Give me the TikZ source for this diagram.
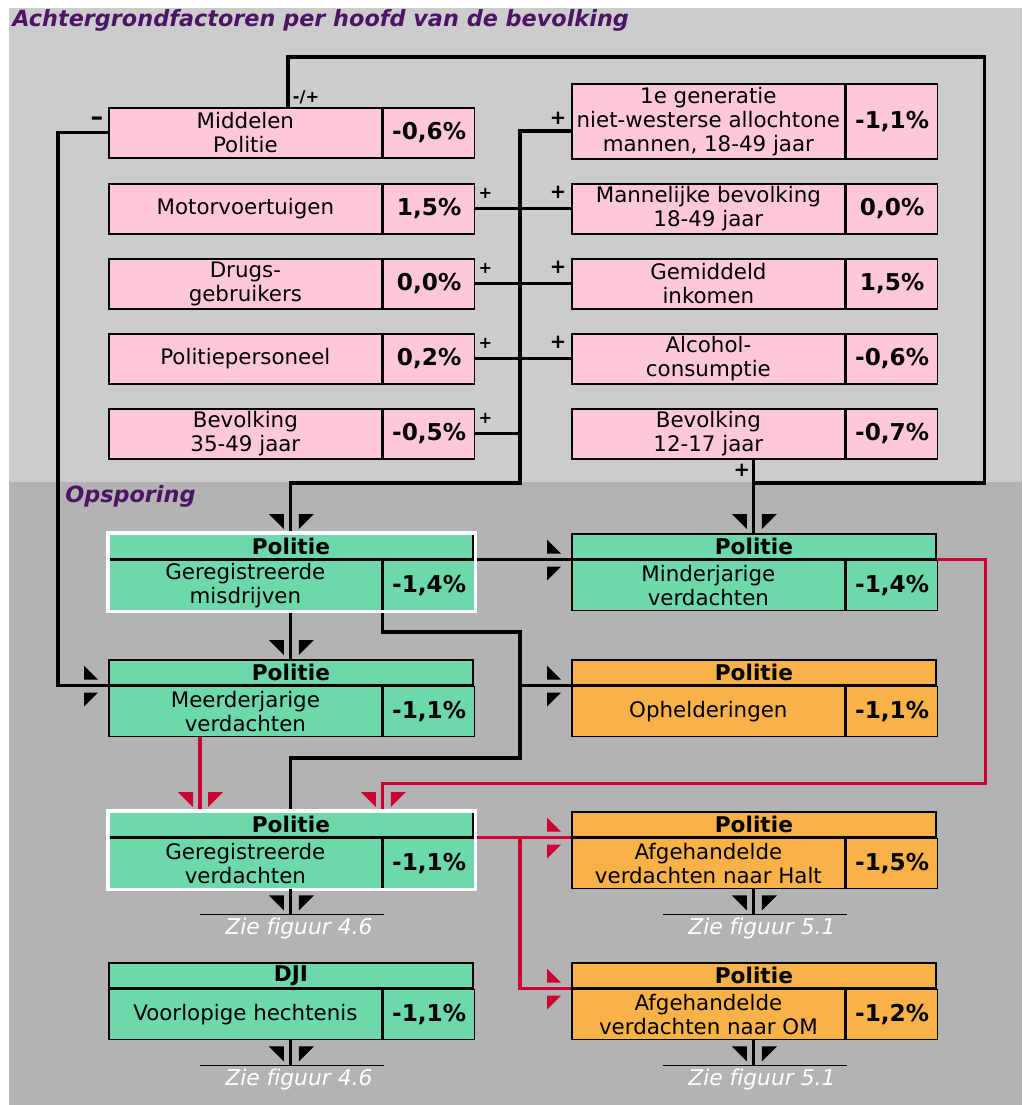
\documentclass[tikz,border=0pt]{standalone}
\usepackage{fontspec}
\setmainfont{DejaVu Sans}
\usepackage{tikz}
\usetikzlibrary{positioning,calc}
\definecolor{bgtop}{RGB}{204,204,204}
\definecolor{bgbot}{RGB}{179,179,179}
\definecolor{pinkbox}{RGB}{255,200,218}
\definecolor{greenbox}{RGB}{108,216,172}
\definecolor{orangebox}{RGB}{248,178,72}
\definecolor{linkred}{RGB}{204,0,51}
\definecolor{titlepurple}{RGB}{77,20,102}

\tikzset{
	pics/downtips/.style={code={
		\fill (-22,-19) -- (-7,-19) -- (-7,-4) -- cycle;
		\fill (8,-19) -- (23,-19) -- (8,-4) -- cycle;}},
	pics/righttips/.style={code={
		\fill (-24,-20) -- (-24,-6) -- (-10,-6) -- cycle;
		\fill (-24,7) -- (-10,7) -- (-24,21) -- cycle;}}
}

\begin{document}
\begin{tikzpicture}[x=0.025cm, y=-0.025cm,
	cell/.style={draw, line width=1.2pt, inner sep=0pt, align=center},
	txt/.style={cell, minimum width=6.825cm, minimum height=1.25cm, font=\fontsize{15.2}{17}\selectfont},
	val/.style={cell, minimum width=2.275cm, minimum height=1.25cm, font=\bfseries\fontsize{16.5}{18}\selectfont},
	hdr/.style={cell, minimum width=9.1cm, minimum height=0.625cm, anchor=north west, font=\bfseries\fontsize{15.4}{18}\selectfont},
	link/.style={line width=2.2pt},
	redlink/.style={line width=2.2pt, linkred},
	refline/.style={line width=1.2pt},
	sign/.style={inner sep=0pt, font=\bfseries\fontsize{11.5}{13}\selectfont},
	bigsign/.style={inner sep=0pt, font=\bfseries\fontsize{14}{15}\selectfont},
	zie/.style={inner sep=0pt, text=white, font=\itshape\fontsize{15.5}{17}\selectfont},
	part/.style={anchor=base west, inner sep=0pt, text=titlepurple, font=\bfseries\itshape\fontsize{15.9}{18}\selectfont}]
	
	% Background
	\useasboundingbox (0,0) rectangle (1022,1105);
	\fill[bgtop] (9,8) rectangle (1022,482);
	\fill[bgbot] (9,482) rectangle (1022,1105);
	\node[part] (top) at (12,26) {Achtergrondfactoren per hoofd van de bevolking};
	\node[part] (mid) at (65,502) {Opsporing};
	
	% Background factors
	\foreach \n/\y/\lab/\pct in {1/107/{Middelen\\Politie}/{-0,6\%}, 2/183/Motorvoertuigen/{1,5\%}, 3/258/{Drugs-\\gebruikers}/{0,0\%}, 4/333/Politiepersoneel/{0,2\%}, 5/408/{Bevolking\\35-49 jaar}/{-0,5\%}}
	{
		\node[txt, fill=pinkbox, anchor=north west] (L\n) at (108,\y) {\lab};
		\node[val, fill=pinkbox, right=0pt of L\n] (vL\n) {\pct};
	}
	\foreach \n/\y/\h/\lab/\pct in {1/83/1.875cm/{1e generatie\\niet-westerse allochtone\\mannen, 18-49 jaar}/{-1,1\%}, 2/183/1.25cm/{Mannelijke bevolking\\18-49 jaar}/{0,0\%}, 3/258/1.25cm/{Gemiddeld\\inkomen}/{1,5\%}, 4/333/1.25cm/{Alcohol-\\consumptie}/{-0,6\%}, 5/408/1.25cm/{Bevolking\\12-17 jaar}/{-0,7\%}}
	{
		\node[txt, fill=pinkbox, anchor=north west, minimum height=\h] (R\n) at (571,\y) {\lab};
		\node[val, fill=pinkbox, minimum height=\h, right=0pt of R\n] (vR\n) {\pct};
	}
	
	% Police boxes
	\foreach \n/\x/\y/\hd/\lab/\pct/\c in {M/108/533/Politie/{Geregistreerde\\misdrijven}/{-1,4\%}/greenbox, N/571/533/Politie/{Minderjarige\\verdachten}/{-1,4\%}/greenbox, Me/108/659/Politie/{Meerderjarige\\verdachten}/{-1,1\%}/greenbox, O/571/659/Politie/Ophelderingen/{-1,1\%}/orangebox, V/108/811/Politie/{Geregistreerde\\verdachten}/{-1,1\%}/greenbox, H/571/811/Politie/{Afgehandelde\\verdachten naar Halt}/{-1,5\%}/orangebox, D/108/962/DJI/Voorlopige hechtenis/{-1,1\%}/greenbox, Om/571/962/Politie/{Afgehandelde\\verdachten naar OM}/{-1,2\%}/orangebox}
	{
		\node[hdr, fill=\c] (h\n) at (\x,\y) {\hd};
		\node[txt, fill=\c, below right=0pt of h\n.south west] (t\n) {\lab};
		\node[val, fill=\c, right=0pt of t\n] (v\n) {\pct};
	}
	
	% Connectors between the factors
	\coordinate (bus) at (520,131);
	\coordinate (frame) at (288,57);
	\coordinate (redA) at (200,0);
	\draw[link] (R1.west |- bus) -- (bus) |- ($(hM.north)+(0,-50)$) -- (hM.north);
	\foreach \n in {2,3,4}
		\draw[link] (vL\n.east) -- (R\n.west);
	\draw[link] (vL5.east) -- (vL5.east -| bus);
	\draw[link] (frame |- L1.north) -- (frame) -| ($(hN.north)+(231,-50)$) -- ($(hN.north)+(0,-50)$);
	\draw[link] (hN.north |- R5.south) -- (hN.north);
	\draw[link] (L1.west) -- ++(-50,0) |- (hMe.south west);
	
	% Connectors between the police boxes
	\draw[link] (hM.north |- tM.south) -- (hMe.north);
	\draw[link] (hM.south east) -- (hN.south west);
	\draw[link] (vM.south west) |- ($(bus)+(0,501)$) -- ($(bus)+(0,627)$) -| (hV.north);
	\draw[link] (hO.south west -| bus) -- (hO.south west);
	\draw[redlink] (tMe.south -| redA) -- (hV.north -| redA);
	\draw[redlink] (hN.south east) -| ($(hN.south east)+(49,224)$) -| (hV.north -| vV.north west);
	\draw[redlink] (hV.south east) -- (hH.south west);
	\draw[redlink] (hV.south east -| bus) |- (hOm.south west);
	\draw[white, line width=2.4pt] (hM.north west) rectangle (vM.south east);
	\draw[white, line width=2.4pt] (hV.north west) rectangle (vV.south east);
	
	% Signs
	\foreach \n in {2,3,4,5}
		\node[sign] (pL\n) at ($(vL\n.north east)+(10,10)$) {+};
	\foreach \n in {2,3,4}
		\node[bigsign] (pR\n) at ($(R\n.north west)+(-13,9)$) {+};
	\node[bigsign] (pR1) at ($(R1.north west)+(-13,35)$) {+};
	\node[bigsign] (pR5) at ($(R5.south east)+(-104,11)$) {+};
	\node[sign] (pm) at ($(L1.north west)+(198,-10)$) {-/+};
	\node[bigsign, font=\bfseries\fontsize{18}{18}\selectfont] (mn) at ($(L1.north west)+(-11,14)$) {\textendash};
	
	% Arrow tips
	\pic at (hM.north) {downtips};
	\pic at (hMe.north) {downtips};
	\pic at (hN.north) {downtips};
	\pic at (hN.south west) {righttips};
	\pic at (hMe.south west) {righttips};
	\pic at (hO.south west) {righttips};
	\pic[linkred] at (hV.north -| redA) {downtips};
	\pic[linkred] at (hV.north -| vV.north west) {downtips};
	\pic[linkred] at (hH.south west) {righttips};
	\pic[linkred] at (hOm.south west) {righttips};
	
	% References to other figures
	\foreach \bx/\f in {V/4.6, D/4.6, H/5.1, Om/5.1}
	{
		\draw[link] (h\bx.north |- t\bx.south) -- ++(0,25) coordinate (z\bx);
		\pic at (z\bx) {downtips};
		\draw[refline] ($(z\bx)+(-91,0)$) -- ($(z\bx)+(93,0)$);
		\node[zie] (zt\bx) at ($(z\bx)+(8,14)$) {Zie f\kern0pt iguur \f};
	}
	
\end{tikzpicture}
\end{document}
